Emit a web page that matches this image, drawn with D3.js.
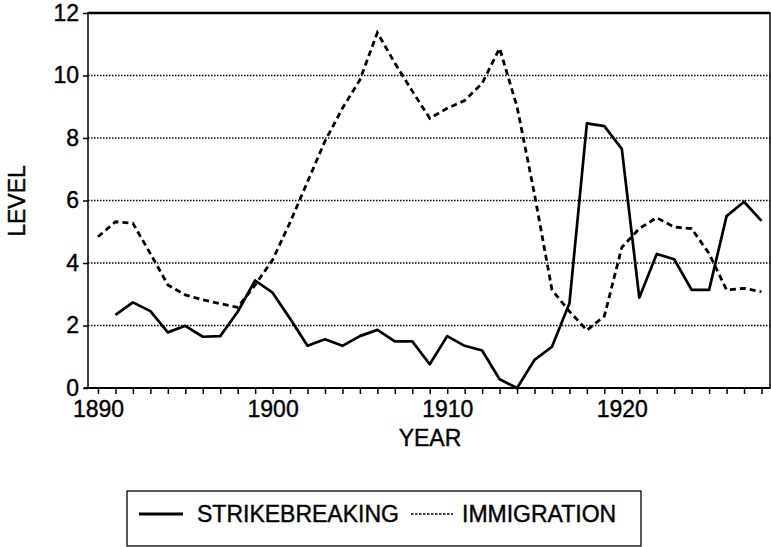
<!DOCTYPE html>
<html>
<head>
<meta charset="utf-8">
<script src="https://cdn.jsdelivr.net/npm/d3@7"></script>
<style>
    body { margin: 0; background: #fff; }
    svg { display: block; font-family: "Liberation Sans", Arial, Helvetica, sans-serif; }
    .tick text { font-size: 23px; fill: #000; stroke: #000; stroke-width: 0.4px; }
    .tick line { stroke: #000; stroke-width: 1.5; }
    .axis-title { font-size: 23px; fill: #000; stroke: #000; stroke-width: 0.4px; }
    .legend-label { font-size: 23px; fill: #000; stroke: #000; stroke-width: 0.4px; }
</style>
</head>
<body>
<div id="chart"></div>
<script>
const years = [1890, 1891, 1892, 1893, 1894, 1895, 1896, 1897, 1898, 1899,
    1900, 1901, 1902, 1903, 1904, 1905, 1906, 1907, 1908, 1909,
    1910, 1911, 1912, 1913, 1914, 1915, 1916, 1917, 1918, 1919,
    1920, 1921, 1922, 1923, 1924, 1925, 1926, 1927, 1928];

const strikebreaking = [null, 2.34, 2.74, 2.46, 1.78, 1.99, 1.64, 1.66, 2.44, 3.44,
    3.05, 2.22, 1.35, 1.56, 1.35, 1.66, 1.86, 1.49, 1.49, 0.76,
    1.66, 1.35, 1.2, 0.28, 0.0, 0.9, 1.32, 2.71, 8.47, 8.38,
    7.65, 2.89, 4.29, 4.12, 3.14, 3.14, 5.5, 5.96, 5.35];

const immigration = [4.84, 5.32, 5.27, 4.3, 3.3, 2.98, 2.82, 2.7, 2.58, 3.3,
    4.1, 5.3, 6.6, 7.9, 8.95, 9.86, 11.37, 10.4, 9.5, 8.63,
    8.95, 9.2, 9.75, 10.87, 9.0, 6.2, 3.14, 2.45, 1.85, 2.3,
    4.5, 5.1, 5.45, 5.15, 5.1, 4.3, 3.14, 3.19, 3.08];

const yTicks = [0, 2, 4, 6, 8, 10, 12];
const xLabels = [1890, 1900, 1910, 1920];
const seriesNames = ["STRIKEBREAKING", "IMMIGRATION"];

const width = 771;
const height = 547;
const plot = { left: 88, right: 770, top: 13, bottom: 388 };

const svg = d3.select("#chart")
    .append("svg")
    .attr("width", width)
    .attr("height", height);

// year 1890 sits a bit inside the frame, 1928 right before the edge
const x = d3.scaleLinear()
    .domain([1890, 1928])
    .range([98, 761.5]);

const y = d3.scaleLinear()
    .domain([0, 12])
    .range([plot.bottom, plot.top]);

// dotted grid
svg.append("g")
    .selectAll("line")
    .data(yTicks.filter(d => d > 0 && d < 12))
    .enter()
    .append("line")
    .attr("x1", plot.left)
    .attr("x2", plot.right)
    .attr("y1", d => y(d))
    .attr("y2", d => y(d))
    .attr("stroke", "#000")
    .attr("stroke-width", 1.3)
    .attr("stroke-dasharray", "1.5,1.5");

// frame
svg.append("rect")
    .attr("x", plot.left)
    .attr("y", plot.top)
    .attr("width", plot.right - plot.left)
    .attr("height", plot.bottom - plot.top)
    .attr("fill", "none")
    .attr("stroke", "#000")
    .attr("stroke-width", 1.5);

svg.append("line")
    .attr("x1", plot.left)
    .attr("x2", plot.right)
    .attr("y1", plot.top)
    .attr("y2", plot.top)
    .attr("stroke", "#000")
    .attr("stroke-width", 2.5);

const yAxis = svg.append("g")
    .attr("transform", `translate(${plot.left},0)`)
    .call(d3.axisLeft(y).tickValues(yTicks).tickSize(5).tickPadding(4).tickFormat(d3.format("d")));
yAxis.select(".domain").remove();

const xAxis = svg.append("g")
    .attr("transform", `translate(0,${plot.bottom})`)
    .call(d3.axisBottom(x)
        .tickValues(years)
        .tickSize(6)
        .tickPadding(6)
        .tickFormat(d => xLabels.includes(d) ? d : ""));
xAxis.select(".domain").remove();
xAxis.selectAll(".tick text").attr("dy", "0.72em");

svg.append("line")
    .attr("x1", 84)
    .attr("x2", plot.right)
    .attr("y1", plot.bottom)
    .attr("y2", plot.bottom)
    .attr("stroke", "#000")
    .attr("stroke-width", 1.8);

svg.append("text")
    .attr("class", "axis-title")
    .attr("text-anchor", "middle")
    .attr("transform", "translate(25,201) rotate(-90)")
    .text("LEVEL");

svg.append("text")
    .attr("class", "axis-title")
    .attr("x", 430)
    .attr("y", 446)
    .attr("text-anchor", "middle")
    .text("YEAR");

const line = d3.line()
    .defined(d => d[1] !== null)
    .x(d => x(d[0]))
    .y(d => y(d[1]));

svg.append("path")
    .datum(years.map((yr, i) => [yr, immigration[i]]))
    .attr("fill", "none")
    .attr("stroke", "#000")
    .attr("stroke-width", 2.8)
    .attr("stroke-dasharray", "6,4")
    .attr("d", line);

svg.append("path")
    .datum(years.map((yr, i) => [yr, strikebreaking[i]]))
    .attr("fill", "none")
    .attr("stroke", "#000")
    .attr("stroke-width", 2.7)
    .attr("stroke-linejoin", "round")
    .attr("d", line);

// legend
const legend = svg.append("g");

legend.append("rect")
    .attr("x", 127)
    .attr("y", 491)
    .attr("width", 514)
    .attr("height", 55)
    .attr("fill", "none")
    .attr("stroke", "#000")
    .attr("stroke-width", 1.3);

legend.append("line")
    .attr("x1", 139)
    .attr("x2", 183)
    .attr("y1", 514)
    .attr("y2", 514)
    .attr("stroke", "#000")
    .attr("stroke-width", 2.8);

legend.append("text")
    .attr("class", "legend-label")
    .attr("x", 197)
    .attr("y", 522)
    .text(seriesNames[0]);

legend.append("line")
    .attr("x1", 411)
    .attr("x2", 453)
    .attr("y1", 514)
    .attr("y2", 514)
    .attr("stroke", "#000")
    .attr("stroke-width", 1.6)
    .attr("stroke-dasharray", "2.5,1.5");

legend.append("text")
    .attr("class", "legend-label")
    .attr("x", 462)
    .attr("y", 522)
    .text(seriesNames[1]);
</script>
</body>
</html>
